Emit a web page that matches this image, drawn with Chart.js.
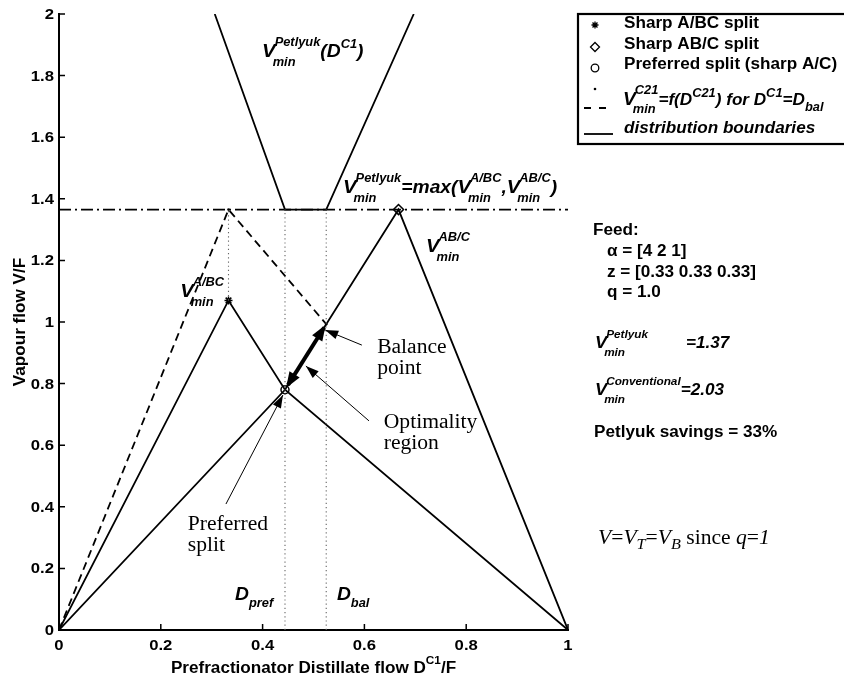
<!DOCTYPE html>
<html><head><meta charset="utf-8">
<script src="https://cdn.jsdelivr.net/npm/chart.js@4/dist/chart.umd.min.js"></script>
<style>html,body{margin:0;padding:0;background:#fff}canvas{display:block}</style>
</head><body>
<canvas id="c" width="844" height="681"></canvas>
<script>
// ---------- data ----------
const xTickValues = [0, 0.2, 0.4, 0.6, 0.8, 1];
const xTickLabels = ['0', '0.2', '0.4', '0.6', '0.8', '1'];
const yTickValues = [0, 0.2, 0.4, 0.6, 0.8, 1, 1.2, 1.4, 1.6, 1.8, 2];
const yTickLabels = ['0', '0.2', '0.4', '0.6', '0.8', '1', '1.2', '1.4', '1.6', '1.8', '2'];

const boundaryAX = [0, 0.333, 0.444, 1];
const boundaryAY = [0, 1.07, 0.78, 0];
const boundaryBX = [0, 0.444, 0.667, 1];
const boundaryBY = [0, 0.78, 1.365, 0];
const petlyukX = [0.306, 0.444, 0.525, 0.697];
const petlyukY = [2, 1.365, 1.365, 2];
const c21X = [0, 0.333, 0.525];
const c21Y = [0, 1.365, 0.993];
const vmaxX = [0, 1];
const vmaxY = [1.365, 1.365];
const dprefX = [0.444, 0.444];
const dprefY = [0, 1.365];
const dbalX = [0.525, 0.525];
const dbalY = [0, 1.365];
const dabcX = [0.333, 0.333];
const dabcY = [1.07, 1.365];
const sharpABCX = [0.333];
const sharpABCY = [1.07];
const sharpABC2X = [0.667];
const sharpABC2Y = [1.365];
const preferredX = [0.444];
const preferredY = [0.78];
const optimX = [0.450, 0.521];
const optimY = [0.796, 0.982];

const zip = (xs, ys) => xs.map((x, i) => ({x: x, y: ys[i]}));

const SANS = '"Liberation Sans", Arial, Helvetica, sans-serif';
const SERIF = '"Liberation Serif", "Times New Roman", serif';
const B = s => `bold ${s}px ${SANS}`;
const BI = s => `italic bold ${s}px ${SANS}`;
const T = s => `${s}px ${SERIF}`;
const TI = s => `italic ${s}px ${SERIF}`;
const SX_SANS = 1.07, SX_SERIF = 1.08;

function sxFor(font) { return font.indexOf('Serif') >= 0 ? SX_SERIF : SX_SANS; }
function txt(ctx, t, x, y, font, sx, align) {
  ctx.font = font;
  sx = sx || sxFor(font);
  const w = ctx.measureText(t).width * sx;
  let x0 = x;
  if (align === 'center') x0 = x - w / 2;
  else if (align === 'right') x0 = x - w;
  ctx.save();
  ctx.translate(x0, y);
  ctx.scale(sx, 1);
  ctx.textAlign = 'left';
  ctx.fillText(t, 0, 0);
  ctx.restore();
  return x0 + w;
}
function rich(ctx, x, y, segs) {
  let cx = x;
  for (const s of segs) {
    if (s.stack) {
      ctx.font = s.font;
      const sx = sxFor(s.font);
      const w1 = ctx.measureText(s.sup).width * sx;
      const w2 = ctx.measureText(s.sub).width * sx;
      txt(ctx, s.sup, cx + (s.supDx || 0), y - s.up, s.font);
      txt(ctx, s.sub, cx + (s.subDx || 0), y + s.down, s.font);
      cx += Math.max(w1 + (s.supDx || 0), w2 + (s.subDx || 0));
    } else {
      cx = txt(ctx, s.t, cx, y + (s.dy || 0), s.font) + (s.after || 0);
    }
  }
  return cx;
}
function vmin(main, small, sup) {
  return [
    {t: 'V', font: BI(main), after: -1},
    {stack: true, font: BI(small), sup: sup, sub: 'min', up: Math.round(main * 0.6), down: Math.round(main * 0.45), supDx: 0, subDx: -2}
  ];
}

function arrowHead(ctx, x1, y1, x2, y2, len, wid) {
  const a = Math.atan2(y2 - y1, x2 - x1);
  ctx.beginPath();
  ctx.moveTo(x2, y2);
  ctx.lineTo(x2 - len * Math.cos(a) + wid * Math.sin(a), y2 - len * Math.sin(a) - wid * Math.cos(a));
  ctx.lineTo(x2 - len * Math.cos(a) - wid * Math.sin(a), y2 - len * Math.sin(a) + wid * Math.cos(a));
  ctx.closePath();
  ctx.fill();
}

function drawStar(ctx, x, y, r) {
  ctx.beginPath();
  for (let k = 0; k < 4; k++) {
    const a = k * Math.PI / 4;
    ctx.moveTo(x - r * Math.cos(a), y - r * Math.sin(a));
    ctx.lineTo(x + r * Math.cos(a), y + r * Math.sin(a));
  }
  ctx.stroke();
}
function drawDiamond(ctx, x, y, r) {
  ctx.beginPath();
  ctx.moveTo(x, y - r); ctx.lineTo(x + r, y); ctx.lineTo(x, y + r); ctx.lineTo(x - r, y); ctx.closePath();
  ctx.stroke();
}
function drawCircle(ctx, x, y, r) {
  ctx.beginPath(); ctx.arc(x, y, r, 0, Math.PI * 2); ctx.stroke();
}

const decor = {
  id: 'decor',
  afterDatasetsDraw(chart) {
    const ctx = chart.ctx;
    const xs = chart.scales.x, ys = chart.scales.y;
    const px = v => xs.getPixelForValue(v), py = v => ys.getPixelForValue(v);
    const ca = chart.chartArea;
    ctx.save();
    ctx.fillStyle = '#000';
    ctx.strokeStyle = '#000';
    ctx.textBaseline = 'alphabetic';
    ctx.textAlign = 'left';

    // inner ticks and tick labels
    ctx.lineWidth = 1.5;
    ctx.beginPath();
    xTickValues.forEach(v => { const X = px(v); ctx.moveTo(X, ca.bottom); ctx.lineTo(X, ca.bottom - 6); });
    yTickValues.forEach(v => { const Y = py(v); ctx.moveTo(ca.left, Y); ctx.lineTo(ca.left + 6, Y); });
    ctx.stroke();
    ctx.textBaseline = 'middle';
    xTickValues.forEach((v, i) => txt(ctx, xTickLabels[i], px(v), ca.bottom + 16, B(14.5), 1.15, 'center'));
    yTickValues.forEach((v, i) => txt(ctx, yTickLabels[i], ca.left - 5, py(v) + 1, B(14.5), 1.15, 'right'));
    ctx.textBaseline = 'alphabetic';

    // thick double arrow heads (optimality region)
    const ox1 = px(optimX[0]), oy1 = py(optimY[0]), ox2 = px(optimX[1]), oy2 = py(optimY[1]);
    arrowHead(ctx, ox2, oy2, px(0.446), py(0.786), 16, 6);
    arrowHead(ctx, ox1, oy1, px(0.524), py(0.991), 16, 6);

    // annotation arrows
    ctx.lineWidth = 1;
    const ann = [
      [0.595, 0.925, 0.523, 0.974],
      [0.609, 0.679, 0.485, 0.857],
      [0.328, 0.409, 0.440, 0.763]
    ];
    ann.forEach(a => {
      const x1 = px(a[0]), y1 = py(a[1]), x2 = px(a[2]), y2 = py(a[3]);
      ctx.beginPath(); ctx.moveTo(x1, y1); ctx.lineTo(x2, y2); ctx.stroke();
      arrowHead(ctx, x1, y1, x2, y2, 13, 4.5);
    });

    // Times annotations
    txt(ctx, 'Balance', px(0.625), py(0.899), T(20));
    txt(ctx, 'point', px(0.625), py(0.899) + 21, T(20));
    txt(ctx, 'Optimality', px(0.638), py(0.656), T(20));
    txt(ctx, 'region', px(0.638), py(0.656) + 21, T(20));
    txt(ctx, 'Preferred', px(0.253), py(0.325), T(20));
    txt(ctx, 'split', px(0.253), py(0.325) + 21, T(20));

    // math labels inside plot
    let x;
    x = rich(ctx, px(0.399), py(1.86), vmin(19, 12, 'Petlyuk'));
    rich(ctx, x, py(1.86), [{t: '(D', font: BI(18)}, {t: 'C1', font: BI(12), dy: -9}, {t: ')', font: BI(18)}]);

    x = rich(ctx, px(0.558), py(1.419), vmin(19, 12, 'Petlyuk'));
    x = rich(ctx, x, py(1.419), [{t: '=max(', font: BI(18)}]);
    x = rich(ctx, x, py(1.419), vmin(19, 12, 'A/BC'));
    x = rich(ctx, x, py(1.419), [{t: ',', font: BI(18)}]);
    x = rich(ctx, x, py(1.419), vmin(19, 12, 'AB/C'));
    rich(ctx, x, py(1.419), [{t: ')', font: BI(18)}]);

    rich(ctx, px(0.721), py(1.227), vmin(19, 12, 'AB/C'));
    rich(ctx, px(0.238), py(1.081), vmin(19, 12, 'A/BC'));

    rich(ctx, px(0.346), py(0.097), [{t: 'D', font: BI(18)}, {t: 'pref', font: BI(12), dy: 7}]);
    rich(ctx, px(0.546), py(0.097), [{t: 'D', font: BI(18)}, {t: 'bal', font: BI(12), dy: 7}]);

    // axis titles
    const p1 = 'Prefractionator Distillate flow D';
    ctx.font = B(16); const w1 = ctx.measureText(p1).width * SX_SANS;
    ctx.font = B(11); const w2 = ctx.measureText('C1').width * SX_SANS;
    ctx.font = B(16); const w3 = ctx.measureText('/F').width * SX_SANS;
    const cxT = (ca.left + ca.right) / 2 - (w1 + w2 + w3) / 2;
    rich(ctx, cxT, 673, [{t: p1, font: B(16)}, {t: 'C1', font: B(11), dy: -9}, {t: '/F', font: B(16)}]);

    ctx.save();
    ctx.translate(25, (ca.top + ca.bottom) / 2);
    ctx.rotate(-Math.PI / 2);
    txt(ctx, 'Vapour flow V/F', 0, 0, B(16), SX_SANS, 'center');
    ctx.restore();

    // legend box
    ctx.lineWidth = 2.2;
    ctx.strokeRect(578, 14, 280, 130);
    ctx.lineWidth = 1.3;
    drawStar(ctx, 595, 25, 3.5);
    drawDiamond(ctx, 595, 47, 4.5);
    drawCircle(ctx, 595, 68, 3.8);
    ctx.beginPath(); ctx.arc(595, 89, 1.3, 0, Math.PI * 2); ctx.fill();
    ctx.lineWidth = 1.8;
    ctx.beginPath(); ctx.moveTo(584, 108); ctx.lineTo(591, 108); ctx.moveTo(599, 108); ctx.lineTo(606, 108); ctx.stroke();
    ctx.beginPath(); ctx.moveTo(584, 134); ctx.lineTo(613, 134); ctx.stroke();
    txt(ctx, 'Sharp A/BC split', 624, 28, B(16));
    txt(ctx, 'Sharp AB/C split', 624, 49, B(16));
    txt(ctx, 'Preferred split (sharp A/C)', 624, 69, B(16));
    x = rich(ctx, 623, 105, vmin(18, 12, 'C21'));
    rich(ctx, x, 105, [{t: '=f(D', font: BI(16)}, {t: 'C21', font: BI(12), dy: -8}, {t: ') for D', font: BI(16)}, {t: 'C1', font: BI(12), dy: -8}, {t: '=D', font: BI(16)}, {t: 'bal', font: BI(12), dy: 6}]);
    txt(ctx, 'distribution boundaries', 624, 133, BI(16));

    // right text panel
    txt(ctx, 'Feed:', 593, 235, B(16));
    txt(ctx, '\u03b1 = [4 2 1]', 607, 256, B(16));
    txt(ctx, 'z = [0.33 0.33 0.33]', 607, 277, B(16));
    txt(ctx, 'q = 1.0', 607, 297, B(16));
    rich(ctx, 595, 348, vmin(17, 11, 'Petlyuk'));
    txt(ctx, '=1.37', 686, 348, BI(16));
    x = rich(ctx, 595, 395, vmin(17, 11, 'Conventional'));
    txt(ctx, '=2.03', x, 395, BI(16));
    txt(ctx, 'Petlyuk savings = 33%', 594, 437, B(16));

    rich(ctx, 598, 544, [
      {t: 'V', font: TI(20)}, {t: '=', font: T(20)}, {t: 'V', font: TI(20)}, {t: 'T', font: TI(15), dy: 5},
      {t: '=', font: T(20)}, {t: 'V', font: TI(20)}, {t: 'B', font: TI(15), dy: 5},
      {t: ' since ', font: T(20)}, {t: 'q', font: TI(20)}, {t: '=', font: T(20)}, {t: '1', font: TI(20)}
    ]);
    ctx.restore();
  }
};

const solid = (data) => ({data, showLine: true, borderColor: '#000', borderWidth: 1.8, pointRadius: 0, tension: 0});
const dotted = (data) => ({data, showLine: true, borderColor: '#666', borderWidth: 1.1, borderDash: [1.2, 3], pointRadius: 0});

new Chart(document.getElementById('c'), {
  type: 'scatter',
  data: {
    datasets: [
      dotted(zip(dprefX, dprefY)),
      dotted(zip(dbalX, dbalY)),
      dotted(zip(dabcX, dabcY)),
      {data: zip(vmaxX, vmaxY), showLine: true, borderColor: '#000', borderWidth: 1.6, borderDash: [12, 4, 2, 4], pointRadius: 0},
      {data: zip(c21X, c21Y), showLine: true, borderColor: '#000', borderWidth: 1.8, borderDash: [8, 5], pointRadius: 1.3, pointBackgroundColor: '#000', pointBorderWidth: 0},
      solid(zip(boundaryAX, boundaryAY)),
      solid(zip(boundaryBX, boundaryBY)),
      solid(zip(petlyukX, petlyukY)),
      {data: zip(optimX, optimY), showLine: true, borderColor: '#000', borderWidth: 4, pointRadius: 0},
      {data: zip(sharpABCX, sharpABCY), pointStyle: 'star', pointRadius: 4, borderColor: '#000', borderWidth: 1.5, backgroundColor: '#000'},
      {data: zip(sharpABC2X, sharpABC2Y), pointStyle: 'rectRot', pointRadius: 5, borderColor: '#000', borderWidth: 1.5, backgroundColor: 'rgba(255,255,255,0)'},
      {data: zip(preferredX, preferredY), pointStyle: 'circle', pointRadius: 4, borderColor: '#000', borderWidth: 1.5, backgroundColor: 'rgba(255,255,255,0)'}
    ]
  },
  options: {
    responsive: false,
    animation: false,
    devicePixelRatio: 1,
    layout: {padding: {left: 0, right: 276, top: 14, bottom: 0}},
    plugins: {legend: {display: false}, tooltip: {enabled: false}},
    scales: {
      x: {
        type: 'linear', min: 0, max: 1,
        afterBuildTicks: s => { s.ticks = xTickValues.map(v => ({value: v})); },
        afterFit: s => { s.height = 51; },
        ticks: {display: false},
        grid: {display: true, drawOnChartArea: false, drawTicks: false},
        border: {display: true, color: '#000', width: 2}
      },
      y: {
        type: 'linear', min: 0, max: 2,
        afterBuildTicks: s => { s.ticks = yTickValues.map(v => ({value: v})); },
        afterFit: s => { s.width = 59; },
        ticks: {display: false},
        grid: {display: true, drawOnChartArea: false, drawTicks: false},
        border: {display: true, color: '#000', width: 2}
      }
    }
  },
  plugins: [decor]
});
</script>
</body></html>
